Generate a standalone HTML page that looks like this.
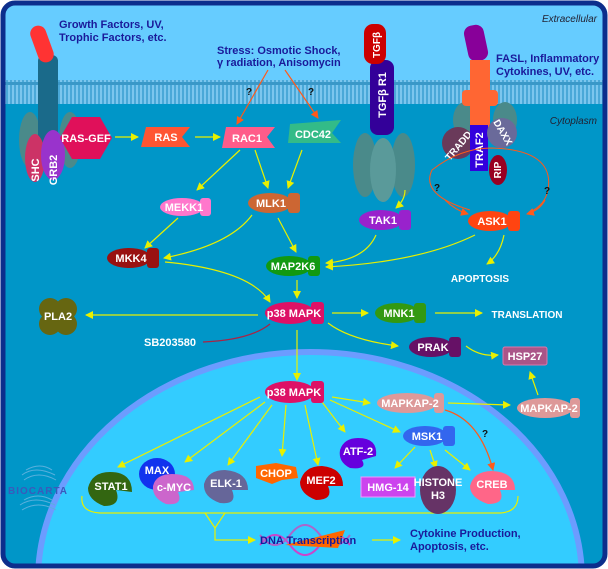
<!DOCTYPE html>
<html><head><meta charset="utf-8"><style>
html,body{margin:0;padding:0;background:#fff;width:608px;height:569px;overflow:hidden}
svg{display:block}
text{font-family:"Liberation Sans",sans-serif;font-weight:bold}
.w{fill:#fff;font-size:11px;text-anchor:middle}
.b{fill:#1a1a9a;font-size:11px}
.y{stroke:#e8f000;stroke-width:1.2;fill:none;marker-end:url(#ay)}
.o{stroke:#ff5a1a;stroke-width:1.2;fill:none;marker-end:url(#ao)}
</style></head><body>
<svg width="608" height="569" viewBox="0 0 608 569" xmlns="http://www.w3.org/2000/svg">
<defs>
<marker id="ay" markerWidth="8" markerHeight="8" refX="7" refY="4" orient="auto" markerUnits="userSpaceOnUse"><path d="M0,0 L8,4 L0,8 z" fill="#e8f000"/></marker>
<marker id="ao" markerWidth="8" markerHeight="8" refX="7" refY="4" orient="auto" markerUnits="userSpaceOnUse"><path d="M0,0 L8,4 L0,8 z" fill="#ff5a1a"/></marker>
<pattern id="mem" width="4" height="24" patternUnits="userSpaceOnUse"><rect width="4" height="24" fill="#4aa8d8"/><rect width="2" height="24" fill="#7cc6ee"/><rect y="10" width="4" height="3" fill="#3a98c8"/></pattern>
<clipPath id="fr"><rect x="3" y="3" width="602" height="563" rx="12"/></clipPath>
</defs>
<g clip-path="url(#fr)">
<rect x="0" y="0" width="608" height="569" fill="#0096c8"/>
<rect x="0" y="0" width="608" height="88" fill="#66ccff"/>
<rect x="0" y="80" width="608" height="24" fill="url(#mem)"/>
<ellipse cx="310" cy="580" rx="272" ry="228" fill="#33ccff" stroke="#6c9cff" stroke-width="6"/>
</g>
<rect x="3" y="3" width="602" height="563" rx="12" fill="none" stroke="#0c2e8c" stroke-width="5"/>

<text x="597" y="22" style="font-style:italic;font-weight:normal;font-size:10px;fill:#223" text-anchor="end">Extracellular</text>
<text x="597" y="124" style="font-style:italic;font-weight:normal;font-size:10px;fill:#223" text-anchor="end">Cytoplasm</text>

<text class="b" x="59" y="28">Growth Factors, UV,</text>
<text class="b" x="59" y="41">Trophic Factors, etc.</text>
<text class="b" x="217" y="54">Stress: Osmotic Shock,</text>
<text class="b" x="217" y="66">γ radiation, Anisomycin</text>
<text class="b" x="496" y="62">FASL, Inflammatory</text>
<text class="b" x="496" y="75">Cytokines, UV, etc.</text>

<ellipse cx="30" cy="140" rx="11" ry="28" fill="#4a8a8a"/>
<ellipse cx="70" cy="140" rx="11" ry="28" fill="#4a8a8a"/>
<rect x="38" y="55" width="20" height="90" rx="6" fill="#1a6a8a"/>
<rect x="34" y="25" width="16" height="38" rx="8" fill="#ff3333" transform="rotate(-20 42 44)"/>
<ellipse cx="35" cy="158" rx="10" ry="24" fill="#cc3366"/>
<ellipse cx="53" cy="155" rx="12" ry="25" fill="#9933cc"/>
<text class="w" transform="translate(39,170) rotate(-90)">SHC</text>
<text class="w" transform="translate(57,170) rotate(-90)">GRB2</text>
<polygon points="72,117 100,117 112,138 100,159 72,159 60,138" fill="#e0105a"/>
<text class="w" x="86" y="142">RAS-GEF</text>

<ellipse cx="365" cy="165" rx="12" ry="32" fill="#4a8a8a"/>
<ellipse cx="403" cy="165" rx="12" ry="32" fill="#4a8a8a"/>
<rect x="370" y="60" width="24" height="75" rx="8" fill="#330099"/>
<ellipse cx="383" cy="170" rx="13" ry="32" fill="#5a9a9a"/>
<rect x="364" y="24" width="22" height="40" rx="9" fill="#cc0000"/>
<text class="w" transform="translate(380,45) rotate(-90)" style="font-size:10px">TGFβ</text>
<text class="w" transform="translate(386,95) rotate(-90)">TGFβ R1</text>

<ellipse cx="465" cy="120" rx="12" ry="18" fill="#4a8a8a"/>
<ellipse cx="505" cy="120" rx="12" ry="18" fill="#4a8a8a"/>
<rect x="466" y="25" width="20" height="36" rx="8" fill="#880099" transform="rotate(-12 476 43)"/>
<rect x="470" y="60" width="20" height="70" fill="#ff6633"/>
<rect x="462" y="90" width="36" height="16" rx="4" fill="#ff6633"/>
<circle cx="458" cy="143" r="16" fill="#6a3a5a"/>
<text class="w" transform="translate(461,148) rotate(-50)" style="font-size:10px">TRADD</text>
<rect x="470" y="125" width="18" height="46" fill="#3300dd"/>
<text class="w" transform="translate(483,150) rotate(-90)">TRAF2</text>
<ellipse cx="498" cy="170" rx="9" ry="15" fill="#990022"/>
<text class="w" transform="translate(501,170) rotate(-90)" style="font-size:10px">RIP</text>
<circle cx="502" cy="133" r="15" fill="#6a6a9a"/>
<text class="w" transform="translate(500,134) rotate(60)" style="font-size:10px">DAXX</text>

<path class="o" d="M268,70 L237,124"/><path class="o" d="M285,70 L318,118"/>
<text x="246" y="95" style="font-size:10px;fill:#111">?</text>
<text x="308" y="95" style="font-size:10px;fill:#111">?</text>
<path class="y" d="M115,137 L138,137"/>
<path class="y" d="M195,137 L220,137"/>
<path class="y" d="M240,150 L197,190"/>
<path class="y" d="M255,150 L268,188"/>
<path class="y" d="M302,150 L288,188"/>
<path class="y" d="M178,218 L145,248"/>
<path class="y" d="M252,215 Q230,245 164,258"/>
<path class="y" d="M278,218 L296,252"/>
<path class="y" d="M405,190 Q405,200 396,208"/>
<path class="y" d="M376,235 Q365,260 326,263"/>
<path class="y" d="M475,235 Q420,262 326,267"/>
<path class="y" d="M504,235 Q500,255 487,264"/>
<path d="M470,210 Q420,195 432,170 Q460,148 492,148 Q555,150 548,190 Q545,205 530,212" fill="none" stroke="#ff5a1a" stroke-width="1"/>
<path class="o" d="M445,200 Q455,210 468,214"/>
<path class="o" d="M545,200 Q540,210 527,214"/>
<text x="434" y="191" style="font-size:10px;fill:#111">?</text>
<text x="544" y="194" style="font-size:10px;fill:#111">?</text>
<path class="y" d="M297,280 L297,298"/>
<path class="y" d="M165,262 Q250,270 270,302"/>
<path class="y" d="M258,315 L86,315"/>
<path class="y" d="M332,313 L368,313"/>
<path class="y" d="M435,313 L482,313"/>
<path class="y" d="M328,323 Q350,340 398,346"/>
<path class="y" d="M466,346 Q480,357 498,355"/>
<path d="M203,342 Q250,340 270,324" fill="none" stroke="#aa2244" stroke-width="1.2"/>
<path class="y" d="M297,330 L297,380"/>
<path class="y" d="M332,397 L370,403"/>
<path class="y" d="M448,403 L510,405"/>
<path class="y" d="M538,395 L530,372"/>
<path class="o" d="M445,410 Q480,420 493,470"/>
<text x="482" y="437" style="font-size:10px;fill:#111">?</text>
<path class="y" d="M260,397 L118,467"/>
<path class="y" d="M265,402 L185,462"/>
<path class="y" d="M272,405 L228,465"/>
<path class="y" d="M286,405 L282,456"/>
<path class="y" d="M305,405 L318,465"/>
<path class="y" d="M322,402 L345,432"/>
<path class="y" d="M330,400 L400,432"/>
<path class="y" d="M415,447 L395,468"/>
<path class="y" d="M430,450 L436,468"/>
<path class="y" d="M445,450 L470,470"/>
<path d="M82,496 Q80,512 100,513 L500,513 Q518,512 518,496" fill="none" stroke="#e8f000" stroke-width="1.2"/>
<path d="M205,513 L215,528 L225,513" fill="none" stroke="#e8f000" stroke-width="1.2"/>
<path class="y" d="M215,528 L215,540 L255,540"/>
<path class="y" d="M372,540 L400,540"/>

<g>
<polygon points="146,127 190,127 182,137 190,147 141,147" fill="#ff5533"/><text class="w" x="166" y="141">RAS</text>
<polygon points="226,127 275,127 267,137 275,148 222,148" fill="#ff5c8a"/><text class="w" x="247" y="142">RAC1</text>
<polygon points="290,124 341,120 332,133 341,143 288,143" fill="#33bb88"/><text class="w" x="313" y="138">CDC42</text>
<ellipse cx="182" cy="207" rx="22" ry="9" fill="#ff77cc"/><rect x="200" y="198" width="11" height="18" rx="3" fill="#ff77cc"/><text class="w" x="184" y="211">MEKK1</text>
<ellipse cx="270" cy="203" rx="22" ry="10" fill="#cc6633"/><rect x="288" y="193" width="12" height="20" rx="3" fill="#cc6633"/><text class="w" x="271" y="207">MLK1</text>
<ellipse cx="381" cy="220" rx="22" ry="10" fill="#9922cc"/><rect x="399" y="210" width="12" height="20" rx="3" fill="#9922cc"/><text class="w" x="383" y="224">TAK1</text>
<ellipse cx="490" cy="221" rx="22" ry="10" fill="#ff4411"/><rect x="508" y="211" width="12" height="20" rx="3" fill="#ff4411"/><text class="w" x="492" y="225">ASK1</text>
<ellipse cx="129" cy="258" rx="22" ry="10" fill="#991111"/><rect x="147" y="248" width="12" height="20" rx="3" fill="#991111"/><text class="w" x="131" y="262">MKK4</text>
<ellipse cx="289" cy="266" rx="23" ry="10" fill="#119911"/><rect x="308" y="256" width="12" height="20" rx="3" fill="#119911"/><text class="w" x="293" y="270">MAP2K6</text>
<ellipse cx="290" cy="313" rx="25" ry="11" fill="#dd1166"/><rect x="311" y="302" width="13" height="22" rx="3" fill="#dd1166"/><text class="w" x="294" y="317">p38 MAPK</text>
<ellipse cx="397" cy="313" rx="22" ry="10" fill="#339911"/><rect x="414" y="303" width="12" height="20" rx="3" fill="#339911"/><text class="w" x="399" y="317">MNK1</text>
<ellipse cx="431" cy="347" rx="22" ry="10" fill="#661166"/><rect x="449" y="337" width="12" height="20" rx="3" fill="#661166"/><text class="w" x="433" y="351">PRAK</text>
<rect x="503" y="347" width="44" height="18" rx="2" fill="#aa5588" stroke="#d7a" /><text class="w" x="525" y="360">HSP27</text>
<g fill="#666611"><circle cx="50" cy="309" r="11"/><circle cx="66" cy="309" r="11"/><circle cx="50" cy="324" r="11"/><circle cx="66" cy="324" r="11"/></g><text class="w" x="58" y="320">PLA2</text>
<text class="w" x="170" y="346">SB203580</text>
<text class="w" x="480" y="282" style="font-size:10px">APOPTOSIS</text>
<text class="w" x="527" y="318" style="font-size:10px">TRANSLATION</text>
<ellipse cx="290" cy="392" rx="25" ry="11" fill="#dd1166"/><rect x="311" y="381" width="13" height="22" rx="3" fill="#dd1166"/><text class="w" x="294" y="396">p38 MAPK</text>
<ellipse cx="407" cy="403" rx="30" ry="10" fill="#dd9999"/><rect x="434" y="393" width="10" height="20" rx="3" fill="#dd9999"/><text class="w" x="410" y="407">MAPKAP-2</text>
<ellipse cx="545" cy="408" rx="28" ry="10" fill="#dd9999"/><rect x="570" y="398" width="10" height="20" rx="3" fill="#dd9999"/><text class="w" x="549" y="412">MAPKAP-2</text>
<ellipse cx="425" cy="436" rx="22" ry="10" fill="#3366ee"/><rect x="443" y="426" width="12" height="20" rx="3" fill="#3366ee"/><text class="w" x="427" y="440">MSK1</text>
<path d="M358,438 Q378,438 376,456 L362,460 Q368,470 350,468 Q338,462 340,450 Q344,438 358,438z" fill="#6600dd"/><text class="w" x="358" y="455">ATF-2</text>
<path d="M110,472 Q132,472 132,492 L116,490 Q122,506 104,506 Q88,500 88,488 Q92,472 110,472z" fill="#336611"/><text class="w" x="111" y="490">STAT1</text>
<ellipse cx="157" cy="474" rx="18" ry="16" fill="#1133ee"/><text class="w" x="157" y="474">MAX</text>
<path d="M172,474 Q194,474 194,490 L178,492 Q184,506 166,504 Q152,498 153,486 Q156,474 172,474z" fill="#cc66cc"/><text class="w" x="174" y="491">c-MYC</text>
<path d="M225,470 Q248,472 248,490 L232,490 Q238,505 220,503 Q203,497 204,484 Q208,470 225,470z" fill="#666699"/><text class="w" x="226" y="487">ELK-1</text>
<path d="M256,466 L276,463 L296,467 L298,478 L282,480 L272,484 L256,478z" fill="#ff6600"/><text class="w" x="276" y="477">CHOP</text>
<path d="M322,466 Q343,468 343,486 L328,486 Q334,500 316,500 Q300,494 300,482 Q304,466 322,466z" fill="#cc0000"/><text class="w" x="321" y="484">MEF2</text>
<rect x="361" y="477" width="54" height="20" fill="#cc44ee" stroke="#e9f"/><text class="w" x="388" y="491">HMG-14</text>
<ellipse cx="438" cy="490" rx="18" ry="24" fill="#663366"/><text class="w" x="438" y="486">HISTONE</text><text class="w" x="438" y="499">H3</text>
<path d="M492,471 Q515,472 515,490 L500,490 Q506,504 488,504 Q470,498 470,486 Q474,471 492,471z" fill="#ff6688"/><text class="w" x="492" y="488">CREB</text>
<path d="M260,545 Q275,525 290,545 T320,545 T350,545" fill="none" stroke="#cc44cc" stroke-width="2"/>
<path d="M260,535 Q275,555 290,535 T320,535 T350,535" fill="none" stroke="#aa66cc" stroke-width="2"/>
<polygon points="285,545 345,530 338,548" fill="#ff6600"/>
<text x="260" y="544" style="font-size:11px;fill:#1a1a9a">DNA Transcription</text>
<text class="b" x="410" y="537">Cytokine Production,</text>
<text class="b" x="410" y="550">Apoptosis, etc.</text>
</g>
<g fill="none" stroke="#5ab0dd" stroke-width="1">
<path d="M22,475 Q35,465 55,475 M24,480 Q38,470 56,480 M26,470 Q40,462 52,470"/>
<path d="M20,505 Q35,495 55,505 M22,510 Q38,500 56,510 M24,500 Q38,492 52,500"/>
</g>
<text x="8" y="494" style="font-size:10px;fill:#3a5abb;letter-spacing:1px">BIOCARTA</text>
</svg>
</body></html>
